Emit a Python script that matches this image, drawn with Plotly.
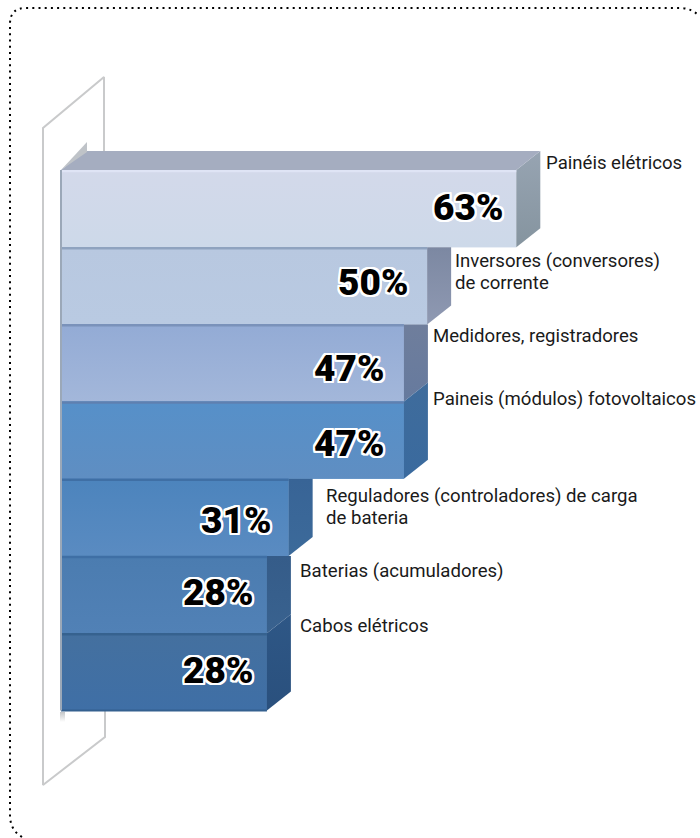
import plotly.graph_objects as go

categories = ["Painéis elétricos", "Inversores (conversores)<br>de corrente", "Medidores, registradores",
              "Paineis (módulos) fotovoltaicos", "Reguladores (controladores) de carga<br>de bateria",
              "Baterias (acumuladores)", "Cabos elétricos"]
percent_labels = ["63%", "50%", "47%", "47%", "31%", "28%", "28%"]
bar_lengths = [62.8, 50.5, 47.3, 47.3, 31.4, 28.4, 28.4]
front_top = ["#D3D9EA", "#B8C8E0", "#93ABD5", "#5690C9", "#4C84BD", "#4B7CB0", "#44709F"]
front_bottom = ["#CDD9E9", "#B9CAE2", "#A3B7DA", "#5F8EC2", "#5A8BC1", "#5181B6", "#3F6FA6"]
side_top = ["#97A4B2", "#7C88A2", "#6F7E9C", "#3F6C9C", "#386496", "#355C89", "#2E5786"]
side_bottom = ["#85949F", "#8F99B2", "#667A9E", "#3A6A9E", "#3C6A9A", "#39628F", "#2A507D"]
edge_colors = ["#DFE4F5", "#8FA3BF", "#7A92BA", "#5F80B0", "#3F6FA5", "#3F6FA5", "#36628F"]

W, H = 700, 838
PX_PER_UNIT = 7.25
ZERO_PX = 61
ROW_TOP = 170
ROW_H = 77.2
DEPTH_X = 24 / PX_PER_UNIT
DEPTH_Y = 19 / ROW_H

def ux(px):
    return (px - ZERO_PX) / PX_PER_UNIT

def uy(px):
    return (px - ROW_TOP) / ROW_H - 0.5

rows = list(range(len(categories)))
fig = go.Figure()

# back panel
panel = [(104, 152), (104, 77), (43, 128), (43, 785), (105, 737), (105, 711)]
fig.add_trace(go.Scatter(x=[ux(p[0]) for p in panel], y=[uy(p[1]) for p in panel], mode="lines",
                         line=dict(color="#C9CACB", width=2), hoverinfo="skip"))

# front faces
fig.add_trace(go.Bar(x=bar_lengths, y=rows, orientation="h", width=1, marker=dict(color=front_top, line=dict(width=0)),
                     hoverinfo="skip"))

def poly(xs, ys, c0, c1, kind="vertical"):
    fig.add_trace(go.Scatter(x=xs + xs[:1], y=ys + ys[:1], mode="lines", line=dict(width=0), fill="toself",
                             fillgradient=dict(type=kind, colorscale=[[0, c0], [1, c1]]), hoverinfo="skip"))

for i in rows:
    L = bar_lengths[i]
    # shaded front
    poly([0, L, L, 0], [i - 0.5, i - 0.5, i + 0.5, i + 0.5], front_bottom[i], front_top[i])
    # side face: clipped flat where the row above is wider
    covered = i > 0 and bar_lengths[i - 1] > L
    top_back = i - 0.5 if covered else i - 0.5 - DEPTH_Y
    poly([L, L + DEPTH_X, L + DEPTH_X, L], [i - 0.5, top_back, i + 0.5 - DEPTH_Y, i + 0.5],
         side_bottom[i], side_top[i])
    # seam on the top of each row
    fig.add_trace(go.Scatter(x=[0, L], y=[i - 0.5 + 0.012, i - 0.5 + 0.012], mode="lines",
                             line=dict(color=edge_colors[i], width=2.5), hoverinfo="skip"))

# top face of the first bar
L0 = bar_lengths[0]
poly([0, DEPTH_X, L0 + DEPTH_X, L0], [-0.5, -0.5 - DEPTH_Y, -0.5 - DEPTH_Y, -0.5], "#A5ADC0", "#A5ADC0")
poly([0, ux(87), ux(87)], [-0.5, uy(142), uy(152)], "#BFC3C8", "#BFC3C8")
# bottom seam and left edge
nrows = len(rows)
fig.add_trace(go.Scatter(x=[0, bar_lengths[-1]], y=[nrows - 0.5, nrows - 0.5], mode="lines",
                         line=dict(color="#34608F", width=2), hoverinfo="skip"))
fig.add_trace(go.Scatter(x=[0, 0], y=[-0.5, nrows - 0.5], mode="lines",
                         line=dict(color="#9BA8B8", width=2), hoverinfo="skip"))
poly([ux(60), ux(65), ux(65), ux(60)], [uy(712), uy(712), uy(722), uy(722)], "#FFFFFF", "#C4C6C8")

WHITE_EDGE = ", ".join(f"{a}px {b}px 0 #fff" for a in (-2, -1, 0, 1, 2) for b in (-2, -1, 0, 1, 2))
label_shift_x = [-11, -17, -18, -18, -16, -12, -12]
label_shift_y = [1, 3, -5, -3, -3, 2, 1]
name_px = [(544, 163), (453, 261), (431, 336), (431, 399), (324, 496), (298, 571), (298, 626)]
LINE_GAP = 22

annotations = []
for i in rows:
    annotations.append(dict(x=bar_lengths[i], y=i, xref="x", yref="y", text=percent_labels[i], showarrow=False,
                            xanchor="right", yanchor="middle", xshift=label_shift_x[i], yshift=label_shift_y[i],
                            font=dict(family="Roboto", size=37, color="#000", weight=900,
                                      shadow=WHITE_EDGE)))
    for k, line in enumerate(categories[i].split("<br>")):
        annotations.append(dict(x=ux(name_px[i][0]), y=uy(name_px[i][1] + k * LINE_GAP), xref="x", yref="y",
                                text=line, showarrow=False, xanchor="left", yanchor="middle", align="left",
                                font=dict(family="Roboto", size=18.6, color="#1A1A1A")))

def P(x, y):
    return f"{x / W:.5f} {1 - y / H:.5f}"

frame = (f"M {P(22, 837)} Q {P(10, 830)} {P(10, 815)} L {P(10, 24)} Q {P(10, 8)} {P(26, 8)} "
         f"L {P(682, 8)} Q {P(692, 9)} {P(698, 15)}")
fig.update_layout(
    width=W, height=H, margin=dict(l=0, r=0, t=0, b=0), paper_bgcolor="#fff", plot_bgcolor="#fff",
    showlegend=False, barmode="overlay", annotations=annotations,
    xaxis=dict(range=[ux(0), ux(W)], visible=False, fixedrange=True),
    yaxis=dict(range=[uy(H), uy(0)], visible=False, fixedrange=True),
    shapes=[dict(type="path", xref="paper", yref="paper", path=frame,
                 line=dict(color="#000", width=2, dash="2px,4.2px"))],
)
fig.write_html("out.html", post_script="document.body.style.margin='0';", config={"displayModeBar": False})
